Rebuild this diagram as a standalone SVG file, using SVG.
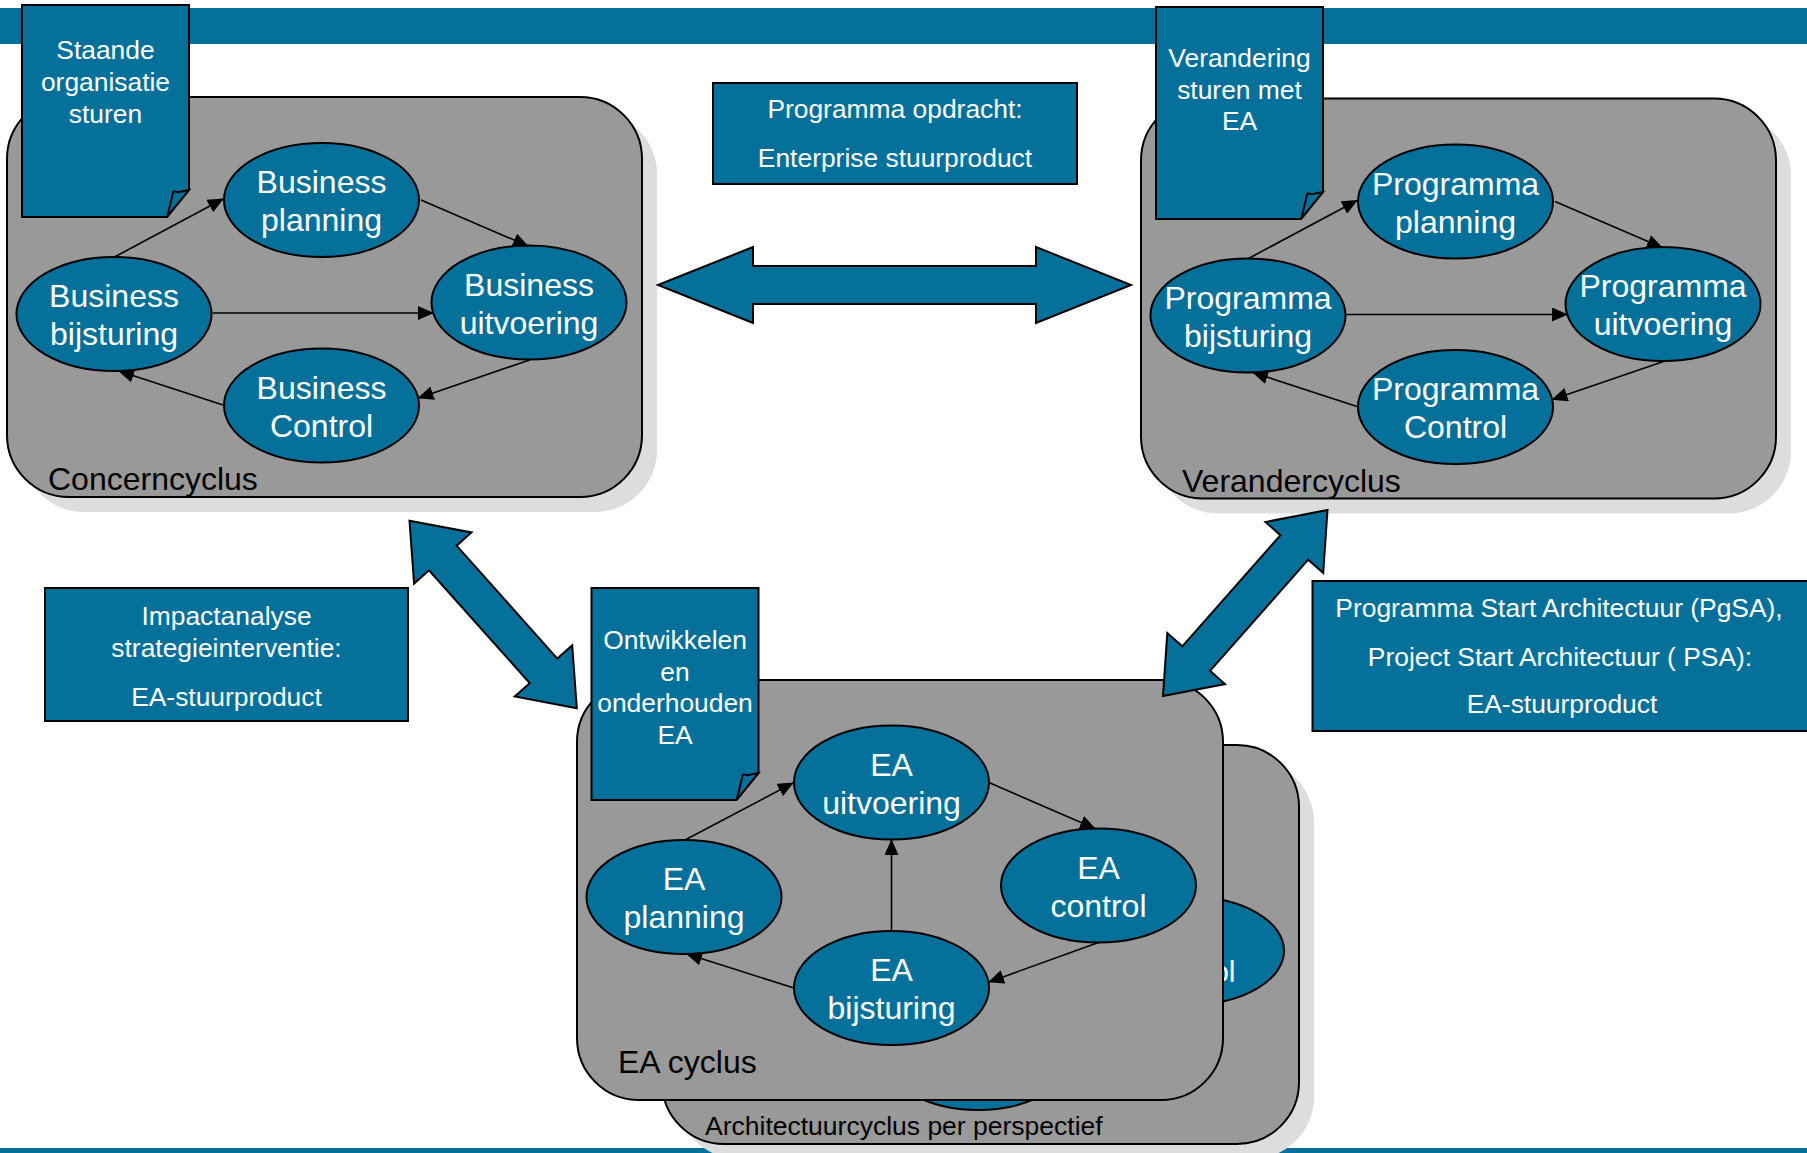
<svg xmlns="http://www.w3.org/2000/svg" width="1807" height="1153" viewBox="0 0 1807 1153">
<defs>
<style>
.band{fill:#05709a}
.cyc{fill:#999999;stroke:#000;stroke-width:2}
.shadow{fill:#dddddd}
.node{fill:#05709a;stroke:#000;stroke-width:2}
.nt{font-family:"Liberation Sans",Arial,sans-serif;font-size:32px;fill:#fff;text-anchor:middle}
.nts{font-family:"Liberation Sans",Arial,sans-serif;font-size:30.4px;fill:#fff;text-anchor:middle}
.st{font-family:"Liberation Sans",Arial,sans-serif;font-size:26.4px;fill:#fff;text-anchor:middle}
.lbl{font-family:"Liberation Sans",Arial,sans-serif;font-size:32px;fill:#000}
.lbls{font-family:"Liberation Sans",Arial,sans-serif;font-size:26.5px;fill:#000}
.box{fill:#05709a;stroke:#000;stroke-width:2}
.big{fill:#05709a;stroke:#000;stroke-width:2}
.conn{stroke:#000;stroke-width:1.6;fill:none;marker-end:url(#ah)}
</style>
<marker id="ah" markerUnits="userSpaceOnUse" markerWidth="16" markerHeight="14" refX="15" refY="7" orient="auto"><path d="M0,0 L16,7 L0,14 Z" fill="#000"/></marker>
<g id="callout-shape">
<path class="box" d="M0,0 H167 V185 L145,212 H0 Z"/>
<path class="box" d="M167,185 L156,187.3 Q153,186 151.3,186.7 L145.3,211.7 Z"/>
</g>
</defs>
<rect width="1807" height="1153" fill="#fff"/>
<rect class="band" x="0" y="8" width="1807" height="36"/>
<rect class="band" x="0" y="1148" width="1807" height="5"/>

<g id="concerncyclus">
<rect class="shadow" x="22" y="112" width="635" height="400" rx="62"/>
<rect class="cyc" x="7" y="97" width="635" height="400" rx="62"/>
<text class="lbl" x="48" y="490">Concerncyclus</text>
</g>
<g id="verandercyclus">
<rect class="shadow" x="1156" y="113.5" width="635" height="400" rx="62"/>
<rect class="cyc" x="1141" y="98.5" width="635" height="400" rx="62"/>
<text class="lbl" x="1182" y="491.5">Verandercyclus</text>
</g>
<g id="architectuurcyclus">
<rect class="shadow" x="677" y="760" width="637" height="399" rx="62"/>
<rect class="cyc" x="662" y="745" width="637" height="399" rx="62"/>
<text class="lbls" x="705" y="1135">Architectuurcyclus per perspectief</text>
<g id="arch-control">
<ellipse class="node" cx="1190" cy="950.7" rx="94" ry="54"/>
<text class="nts" x="1190" y="944">EA</text>
<text class="nts" x="1190" y="981.7">control</text>
</g>
<g id="arch-bijsturing">
<ellipse class="node" cx="978" cy="1056" rx="93" ry="54"/>
<text class="nts" x="978" y="1049">EA</text>
<text class="nts" x="978" y="1087">bijsturing</text>
</g>
</g>
<g id="ea-cyclus">
<rect class="cyc" x="577" y="680" width="646" height="420" rx="62"/>
<text class="lbl" x="618" y="1073">EA cyclus</text>
</g>

<g id="callout-staande">
<use href="#callout-shape" x="22" y="5"/>
<text class="st" x="105.5" y="59">Staande</text>
<text class="st" x="105.5" y="91">organisatie</text>
<text class="st" x="105.5" y="123">sturen</text>
</g>
<g id="callout-verandering">
<use href="#callout-shape" x="1156" y="7"/>
<text class="st" x="1239.5" y="67">Verandering</text>
<text class="st" x="1239.5" y="99">sturen met</text>
<text class="st" x="1239.5" y="130">EA</text>
</g>
<g id="callout-ontwikkelen">
<use href="#callout-shape" x="591.5" y="588"/>
<text class="st" x="675" y="648.7">Ontwikkelen</text>
<text class="st" x="675" y="680.5">en</text>
<text class="st" x="675" y="711.6">onderhouden</text>
<text class="st" x="675" y="743.7">EA</text>
</g>

<g id="box-programma-opdracht">
<rect class="box" x="713" y="83" width="364" height="101"/>
<text class="st" x="895" y="118">Programma opdracht:</text>
<text class="st" x="895" y="167">Enterprise stuurproduct</text>
</g>
<g id="box-impactanalyse">
<rect class="box" x="45" y="588" width="363" height="133"/>
<text class="st" x="226.5" y="625">Impactanalyse</text>
<text class="st" x="226.5" y="657">strategieinterventie:</text>
<text class="st" x="226.5" y="706">EA-stuurproduct</text>
</g>
<g id="box-pgsa">
<rect class="box" x="1312.5" y="581" width="500" height="150"/>
<text class="st" x="1559" y="617">Programma Start Architectuur (PgSA),</text>
<text class="st" x="1560" y="665.7">Project Start Architectuur ( PSA):</text>
<text class="st" x="1562" y="713">EA-stuurproduct</text>
</g>

<g id="business-planning"><ellipse class="node" cx="321.5" cy="200" rx="97.5" ry="57"/><text class="nt" x="321.5" y="193">Business</text><text class="nt" x="321.5" y="231">planning</text></g>
<g id="business-bijsturing"><ellipse class="node" cx="114" cy="314" rx="97.5" ry="57"/><text class="nt" x="114" y="307">Business</text><text class="nt" x="114" y="345">bijsturing</text></g>
<g id="business-uitvoering"><ellipse class="node" cx="529" cy="302.5" rx="97.5" ry="57"/><text class="nt" x="529" y="295.5">Business</text><text class="nt" x="529" y="333.5">uitvoering</text></g>
<g id="business-control"><ellipse class="node" cx="321.5" cy="405.5" rx="97.5" ry="57"/><text class="nt" x="321.5" y="398.5">Business</text><text class="nt" x="321.5" y="436.5">Control</text></g>

<g id="programma-planning"><ellipse class="node" cx="1455.5" cy="201.5" rx="97.5" ry="57"/><text class="nt" x="1455.5" y="194.5">Programma</text><text class="nt" x="1455.5" y="232.5">planning</text></g>
<g id="programma-bijsturing"><ellipse class="node" cx="1248" cy="315.5" rx="97.5" ry="57"/><text class="nt" x="1248" y="308.5">Programma</text><text class="nt" x="1248" y="346.5">bijsturing</text></g>
<g id="programma-uitvoering"><ellipse class="node" cx="1663" cy="304" rx="97.5" ry="57"/><text class="nt" x="1663" y="297">Programma</text><text class="nt" x="1663" y="335">uitvoering</text></g>
<g id="programma-control"><ellipse class="node" cx="1455.5" cy="407" rx="97.5" ry="57"/><text class="nt" x="1455.5" y="400">Programma</text><text class="nt" x="1455.5" y="438">Control</text></g>

<g id="ea-uitvoering"><ellipse class="node" cx="891.5" cy="782.5" rx="97.5" ry="57"/><text class="nt" x="891.5" y="775.5">EA</text><text class="nt" x="891.5" y="813.5">uitvoering</text></g>
<g id="ea-planning"><ellipse class="node" cx="684" cy="897" rx="97.5" ry="57"/><text class="nt" x="684" y="890">EA</text><text class="nt" x="684" y="928">planning</text></g>
<g id="ea-control"><ellipse class="node" cx="1098.5" cy="885.5" rx="97.5" ry="57"/><text class="nt" x="1098.5" y="878.5">EA</text><text class="nt" x="1098.5" y="916.5">control</text></g>
<g id="ea-bijsturing"><ellipse class="node" cx="891.5" cy="988" rx="97.5" ry="57"/><text class="nt" x="891.5" y="981">EA</text><text class="nt" x="891.5" y="1019">bijsturing</text></g>

<g id="connectors">
<line class="conn" x1="114.5" y1="257" x2="223" y2="199"/>
<line class="conn" x1="421" y1="200" x2="528" y2="246"/>
<line class="conn" x1="212.5" y1="313" x2="433" y2="313"/>
<line class="conn" x1="529.5" y1="360" x2="418.5" y2="398"/>
<line class="conn" x1="223" y1="405" x2="119" y2="371"/>

<line class="conn" x1="1248.5" y1="258.5" x2="1357" y2="200.5"/>
<line class="conn" x1="1555" y1="201.5" x2="1662" y2="247.5"/>
<line class="conn" x1="1346.5" y1="314.5" x2="1567" y2="314.5"/>
<line class="conn" x1="1663.5" y1="361.5" x2="1552.5" y2="399.5"/>
<line class="conn" x1="1357" y1="406.5" x2="1253" y2="372.5"/>

<line class="conn" x1="685" y1="840" x2="793" y2="783"/>
<line class="conn" x1="990" y1="783" x2="1095" y2="828.5"/>
<line class="conn" x1="1098.5" y1="942.5" x2="989" y2="982"/>
<line class="conn" x1="794" y1="988" x2="687" y2="954"/>
<line class="conn" x1="891.5" y1="931" x2="891.5" y2="840"/>

<polygon id="arrow-horizontal" class="big" points="658,285 753,247 753,266 1036,266 1036,247 1131,285 1036,323 1036,304 753,304 753,323"/>
<polygon id="arrow-left-diagonal" class="big" points="409.5,520.7 471.5,532.4 456.6,545.7 557.3,658.6 572.2,645.3 576.8,708.2 514.8,696.5 529.7,683.2 429,570.3 414.1,583.6"/>
<polygon id="arrow-right-diagonal" class="big" points="1327.5,510 1323.2,573 1308.2,559.7 1210,670.8 1225,684.1 1163,696 1167.3,633 1182.3,646.3 1280.5,535.2 1265.5,522"/>
</g>
</svg>
